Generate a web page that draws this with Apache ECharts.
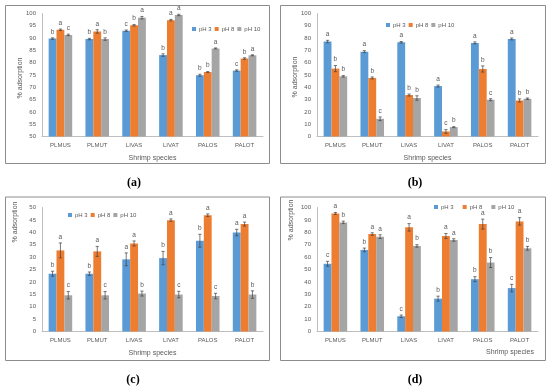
<!DOCTYPE html>
<html><head><meta charset="utf-8">
<script src="https://cdn.jsdelivr.net/npm/echarts@6/dist/echarts.min.js"></script>
<style>html,body{margin:0;padding:0;background:#fff}#c{width:550px;height:388px}</style>
</head><body><div id="c"></div>
<script>
const categories = ['PLMUS','PLMUT','LIVAS','LIVAT','PALOS','PALOT'];
const seriesNames = ['pH 3','pH 8','pH 10'];
const colors = ['#5B9BD5','#ED7D31','#A5A5A5'];

// Panel (a)
const a_yTicks = [50,55,60,65,70,75,80,85,90,95,100];
const a_ph3  = [89.8, 89.6, 93.0, 83.1, 74.9, 76.8];
const a_ph8  = [93.4, 92.7, 95.2, 97.3, 76.2, 81.7];
const a_ph10 = [91.3, 89.6, 98.3, 99.4, 85.8, 83.0];
const a_ph3_err  = [0.3, 0.3, 0.3, 0.5, 0.4, 0.3];
const a_ph8_err  = [0.3, 0.7, 0.3, 0.3, 0.2, 0.3];
const a_ph10_err = [0.3, 0.5, 0.5, 0.3, 0.2, 0.2];
const a_ph3_sig  = ['b','b','c','b','b','c'];
const a_ph8_sig  = ['a','a','b','a','b','b'];
const a_ph10_sig = ['c','b','a','a','a','a'];

// Panel (b)
const b_yTicks = [0,10,20,30,40,50,60,70,80,90,100];
const b_ph3  = [77.2, 69.0, 76.6, 41.0, 76.1, 79.3];
const b_ph8  = [55.2, 47.6, 33.7, 4.1, 54.9, 29.3];
const b_ph10 = [48.9, 14.4, 31.3, 7.6, 29.9, 30.7];
const b_ph3_err  = [1.0, 0.8, 0.6, 0.8, 0.8, 0.8];
const b_ph8_err  = [2.5, 0.8, 0.8, 1.5, 2.5, 1.3];
const b_ph10_err = [0.6, 1.5, 1.8, 0.4, 0.8, 0.6];
const b_ph3_sig  = ['a','a','a','a','a','a'];
const b_ph8_sig  = ['b','b','b','c','b','b'];
const b_ph10_sig = ['b','c','b','b','c','b'];

// Panel (c)
const c_yTicks = [0,5,10,15,20,25,30,35,40,45,50];
const c_ph3  = [23.3, 23.3, 29.1, 29.6, 36.6, 39.9];
const c_ph8  = [32.7, 32.3, 35.5, 44.9, 46.9, 43.3];
const c_ph10 = [14.6, 14.6, 15.3, 14.9, 14.3, 14.9];
const c_ph3_err  = [1.0, 0.7, 2.6, 2.7, 2.6, 1.3];
const c_ph8_err  = [3.0, 2.0, 1.0, 0.5, 0.5, 0.8];
const c_ph10_err = [1.5, 1.5, 1.0, 1.3, 1.1, 1.5];
const c_ph3_sig  = ['b','b','a','b','b','a'];
const c_ph8_sig  = ['a','a','a','a','a','a'];
const c_ph10_sig = ['c','c','b','c','c','b'];

// Panel (d)
const d_yTicks = [0,10,20,30,40,50,60,70,80,90,100];
const d_ph3  = [54.6, 65.8, 12.3, 26.5, 42.2, 35.0];
const d_ph8  = [95.2, 78.6, 84.0, 77.0, 86.6, 88.8];
const d_ph10 = [88.0, 76.5, 69.0, 73.8, 55.6, 67.1];
const d_ph3_err  = [2.0, 1.5, 1.0, 2.0, 2.0, 3.0];
const d_ph8_err  = [0.8, 1.0, 3.0, 2.0, 4.0, 3.0];
const d_ph10_err = [1.0, 1.5, 1.0, 1.0, 4.0, 1.5];
const d_ph3_sig  = ['c','b','c','b','b','c'];
const d_ph8_sig  = ['a','a','a','a','a','a'];
const d_ph10_sig = ['b','a','b','a','b','b'];

const panels = [
  {ticks:a_yTicks, vals:[a_ph3,a_ph8,a_ph10], errs:[a_ph3_err,a_ph8_err,a_ph10_err], sigs:[a_ph3_sig,a_ph8_sig,a_ph10_sig]},
  {ticks:b_yTicks, vals:[b_ph3,b_ph8,b_ph10], errs:[b_ph3_err,b_ph8_err,b_ph10_err], sigs:[b_ph3_sig,b_ph8_sig,b_ph10_sig]},
  {ticks:c_yTicks, vals:[c_ph3,c_ph8,c_ph10], errs:[c_ph3_err,c_ph8_err,c_ph10_err], sigs:[c_ph3_sig,c_ph8_sig,c_ph10_sig]},
  {ticks:d_yTicks, vals:[d_ph3,d_ph8,d_ph10], errs:[d_ph3_err,d_ph8_err,d_ph10_err], sigs:[d_ph3_sig,d_ph8_sig,d_ph10_sig]}
];

const FONT = 'Liberation Sans';
const TXT = '#595959';
const GAP = 0.36;

const grids = [
  {left:42, top:13.5, width:221, height:123},
  {left:317, top:13.5, width:221, height:123},
  {left:42, top:207.5, width:221, height:124},
  {left:317, top:207.5, width:221, height:124}
];
const legendPos = [
  {left:192, top:26, itemGap:3},
  {left:386, top:22, itemGap:3},
  {left:68, top:212, itemGap:3},
  {left:434, top:204, itemGap:9}
];

const xAxis = [], yAxis = [], series = [], legend = [];
panels.forEach((p, gi) => {
  xAxis.push({
    type:'category', gridIndex:gi, data:categories,
    name: gi === 3 ? '' : 'Shrimp species', nameLocation:'middle', nameGap:18,
    nameTextStyle:{fontFamily:FONT, fontSize:7, color:TXT},
    axisLine:{lineStyle:{color:'#BFBFBF', width:1}},
    axisTick:{show:false},
    axisLabel:{fontFamily:FONT, fontSize:6, color:TXT, margin:6, interval:0}
  });
  yAxis.push({
    type:'value', gridIndex:gi, min:p.ticks[0], max:p.ticks[p.ticks.length-1],
    interval:p.ticks[1]-p.ticks[0],
    splitLine:{show:false},
    axisLine:{show:true, lineStyle:{color:'#BFBFBF', width:1}},
    axisTick:{show:false},
    axisLabel:{fontFamily:FONT, fontSize:6, color:TXT, margin:6}
  });
  for (let k = 0; k < 3; k++) {
    series.push({
      type:'bar', name:seriesNames[k], xAxisIndex:gi, yAxisIndex:gi,
      data:p.vals[k], itemStyle:{color:colors[k]},
      barGap:'0%', barCategoryGap:(GAP*100)+'%', silent:true, z:2
    });
  }
  const data = [];
  const letters = [];
  for (let k = 0; k < 3; k++) for (let i = 0; i < 6; i++) {
    data.push([i, k, p.vals[k][i], p.errs[k][i]]);
    letters.push(p.sigs[k][i]);
  }
  series.push({
    type:'custom', xAxisIndex:gi, yAxisIndex:gi, data:data, z:10, silent:true,
    renderItem:function(params, api){
      const i = api.value(0), k = api.value(1), v = api.value(2), e = api.value(3);
      const band = api.size([1,0])[0];
      const bw = band*(1-GAP)/3;
      const cx = api.coord([i, v])[0] + (k-1)*bw;
      const yt = api.coord([i, v+e])[1];
      const yb = api.coord([i, v-e])[1];
      const cap = 1.6;
      const st = {stroke:'#404040', lineWidth:0.7};
      return {type:'group', children:[
        {type:'line', shape:{x1:cx,y1:yt,x2:cx,y2:yb}, style:st},
        {type:'line', shape:{x1:cx-cap,y1:yt,x2:cx+cap,y2:yt}, style:st},
        {type:'line', shape:{x1:cx-cap,y1:yb,x2:cx+cap,y2:yb}, style:st},
        {type:'text', style:{text:letters[params.dataIndex], x:cx, y:yt-2.5,
          align:'center', verticalAlign:'bottom', fontFamily:FONT, fontSize:6.5, fill:TXT}}
      ]};
    }
  });
  legend.push(Object.assign({
    data:seriesNames, orient:'horizontal', padding:0, icon:'rect',
    itemWidth:4, itemHeight:4, selectedMode:false,
    textStyle:{fontFamily:FONT, fontSize:6, color:TXT, padding:[0,0,0,-2]}
  }, legendPos[gi]));
});

const borders = [
  [5, 5, 264, 158], [280, 5, 265, 158], [5, 196.5, 264, 163.5], [280, 196.5, 265, 163.5]
];
const graphic = [];
borders.forEach(b => graphic.push({type:'rect', shape:{x:b[0]+0.5, y:b[1]+0.5, width:b[2], height:b[3]},
  style:{fill:null, stroke:'#8C8C8C', lineWidth:1}, silent:true, z:-1}));
const yNames = [[20, 78], [295, 77], [15, 222], [291, 220]];
yNames.forEach(p => graphic.push({type:'text', x:p[0], y:p[1], rotation:Math.PI/2,
  style:{text:'% adsorption', fontFamily:FONT, fontSize:7, fill:TXT, align:'center', verticalAlign:'middle'}}));
graphic.push({type:'text', x:510, y:352, style:{text:'Shrimp species', fontFamily:FONT, fontSize:7, fill:TXT, align:'center', verticalAlign:'middle'}});
const tags = [['(a)',134,183],['(b)',415,183],['(c)',133,380],['(d)',415,380]];
tags.forEach(t => graphic.push({type:'text', x:t[1], y:t[2], style:{text:t[0], fontFamily:'Liberation Serif', fontWeight:'bold', fontSize:12, fill:'#000', align:'center', verticalAlign:'middle'}}));

const chart = echarts.init(document.getElementById('c'), null, {renderer:'canvas'});
chart.setOption({
  animation:false, backgroundColor:'#fff',
  grid:grids, xAxis:xAxis, yAxis:yAxis, series:series, legend:legend, graphic:graphic
});
</script></body></html>
